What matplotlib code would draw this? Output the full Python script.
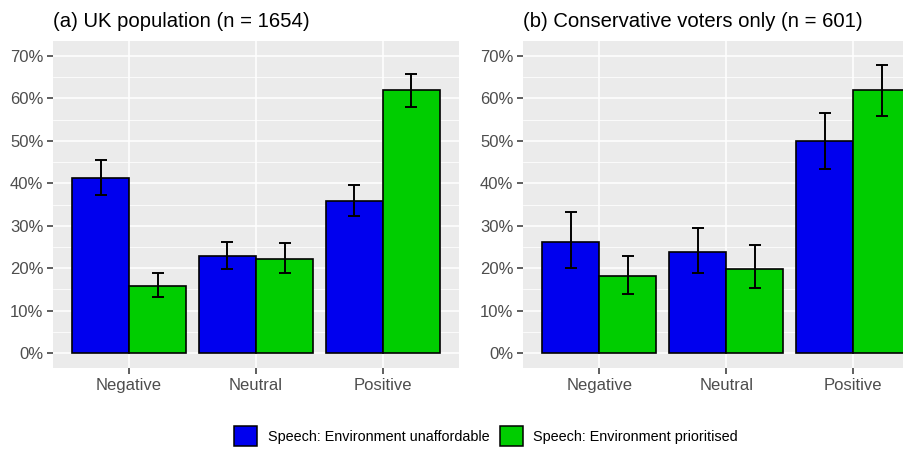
import numpy as np
import matplotlib.pyplot as plt
from matplotlib.patches import Patch
from matplotlib.ticker import FuncFormatter, MultipleLocator

plt.rcParams['font.family'] = ['Liberation Sans', 'DejaVu Sans']

categories = ["Negative", "Neutral", "Positive"]
groups = ["Speech: Environment unaffordable", "Speech: Environment prioritised"]
colors = ["#0000EE", "#00CD00"]

# (a) UK population
uk_unaff = [41.2, 22.8, 35.8]
uk_unaff_lo = [37.2, 19.7, 32.2]
uk_unaff_hi = [45.4, 26.2, 39.7]
uk_prio = [15.8, 22.2, 62.0]
uk_prio_lo = [13.2, 18.8, 57.9]
uk_prio_hi = [18.8, 25.9, 65.8]

# (b) Conservative voters
con_unaff = [26.1, 23.8, 50.0]
con_unaff_lo = [20.0, 18.9, 43.4]
con_unaff_hi = [33.3, 29.4, 56.6]
con_prio = [18.1, 19.9, 62.0]
con_prio_lo = [14.0, 15.3, 55.9]
con_prio_hi = [22.9, 25.4, 67.8]

W, H = 904, 450
fig = plt.figure(figsize=(W / 100, H / 100), dpi=100)


def px_axes(x0, x1, y0, y1):
    return fig.add_axes([x0 / W, 1 - y1 / H, (x1 - x0) / W, (y1 - y0) / H])


def draw_panel(ax, series, title, title_x):
    ax.set_facecolor("#EBEBEB")
    x = np.arange(len(categories))
    width = 0.45
    for i, (vals, lo, hi) in enumerate(series):
        pos = x + (i - 0.5) * width
        vals = np.array(vals) / 100
        lo = np.array(lo) / 100
        hi = np.array(hi) / 100
        ax.bar(pos, vals, width=width, color=colors[i], edgecolor="black",
               linewidth=1.2, zorder=3)
        ax.errorbar(pos, vals, yerr=[vals - lo, hi - vals], fmt="none",
                    ecolor="black", elinewidth=1.4, capsize=4.5,
                    capthick=1.4, zorder=4)
    ax.set_xlim(-0.6, 2.6)
    ax.set_ylim(-0.035, 0.735)
    ax.set_xticks(x)
    ax.set_xticklabels(categories)
    ax.yaxis.set_major_locator(MultipleLocator(0.1))
    ax.yaxis.set_minor_locator(MultipleLocator(0.05))
    ax.yaxis.set_major_formatter(FuncFormatter(lambda v, p: f"{v * 100:.0f}%"))
    ax.set_yticks(np.arange(0, 0.71, 0.1))
    ax.grid(which="major", color="white", linewidth=1.1, zorder=0)
    ax.grid(which="minor", axis="y", color="white", linewidth=0.55, zorder=0)
    ax.set_axisbelow(True)
    for s in ax.spines.values():
        s.set_visible(False)
    ax.tick_params(which="major", length=4, width=1.1, color="#333333",
                   labelsize=12, labelcolor="#4D4D4D", pad=3)
    ax.tick_params(which="minor", length=0)
    fig.text(title_x / W, 1 - 27 / H, title, fontsize=14.6, color="black",
             ha="left", va="baseline")


ax1 = px_axes(53, 459, 41, 368)
draw_panel(ax1, [(uk_unaff, uk_unaff_lo, uk_unaff_hi),
                 (uk_prio, uk_prio_lo, uk_prio_hi)],
           "(a) UK population (n = 1654)", 53)

ax2 = px_axes(523, 929.5, 41, 368)
draw_panel(ax2, [(con_unaff, con_unaff_lo, con_unaff_hi),
                 (con_prio, con_prio_lo, con_prio_hi)],
           "(b) Conservative voters only (n = 601)", 523)

handles = [Patch(facecolor=c, edgecolor="black", linewidth=1.1, label=g)
           for c, g in zip(colors, groups)]
fig.legend(handles=handles, loc="center", bbox_to_anchor=(486 / W, 1 - 436 / H),
           ncol=2, frameon=False, fontsize=10.4, handlelength=1.6,
           handleheight=1.75, handletextpad=0.75, columnspacing=0.7)

fig.savefig("out.png", dpi=100)
